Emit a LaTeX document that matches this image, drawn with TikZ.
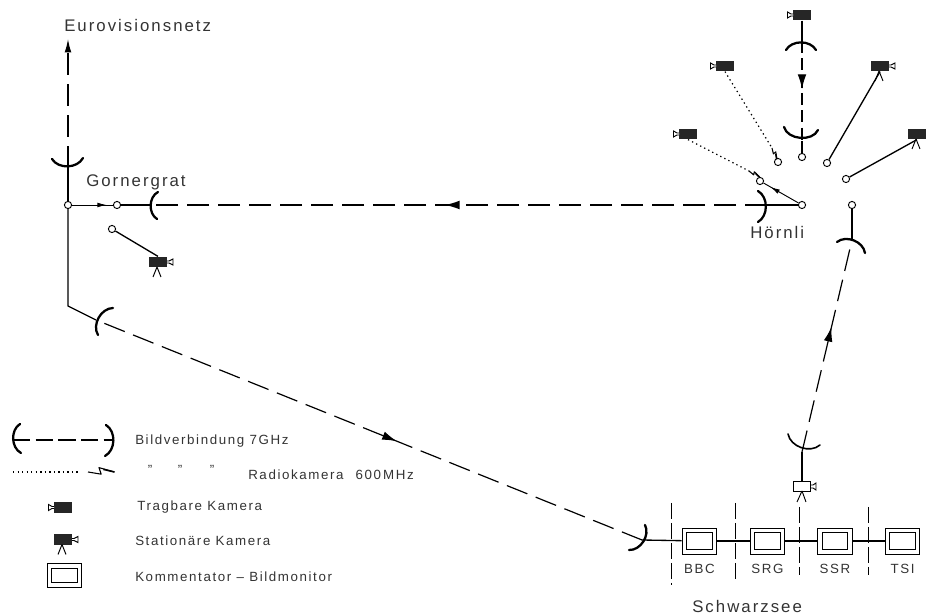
\documentclass[tikz,border=0pt]{standalone}
\usepackage{fontspec}
\setmainfont[LetterSpace=12]{Liberation Sans}
\usetikzlibrary{positioning,arrows.meta,decorations.markings}
\tikzset{
  wire/.style={line width=1pt},
  thinwire/.style={line width=0.7pt},
  link/.style={line width=0.9pt, dash pattern=on 16.5pt off 6.75pt},
  shortlink/.style={line width=0.9pt, dash pattern=on 9pt off 4pt},
  radio/.style={line width=0.9pt, dash pattern=on 1pt off 2.4pt},
  dish/.style={line width=1.7pt, line cap=round},
  port/.style={circle, draw, line width=0.7pt, fill=white, inner sep=0pt, minimum size=5.4pt},
  cambody/.style={fill=black!85, inner sep=0pt, minimum width=13.5pt, minimum height=8pt},
  whitebody/.style={draw, line width=0.7pt, fill=white, inner sep=0pt, minimum width=13pt, minimum height=7pt},
  monitor/.style={draw, line width=0.7pt, inner sep=0pt, fill=white, minimum width=26pt, minimum height=19.5pt},
  screen/.style={draw, line width=0.7pt, inner sep=0pt, minimum width=19pt, minimum height=12.5pt},
  lbl/.style={font=\fontsize{10pt}{12pt}\selectfont, text=black!80, inner sep=0pt},
  place/.style={font=\fontsize{12.6pt}{15pt}\selectfont, text=black!80, inner sep=0pt},
  tipat/.style={decoration={markings, mark=at position #1 with
    {\arrow{Latex[length=11pt,width=6.5pt]}}}, postaction=decorate},
  smalltipat/.style={decoration={markings, mark=at position #1 with
    {\arrow{Latex[length=7pt,width=3.5pt]}}}, postaction=decorate},
  tragkam/.pic={
    \node[cambody] (-body) {};
    \draw[line width=0.7pt, fill=white] (-9,-1) -- (-11,-1) -- (-14.5,-3) -- (-14.5,3) -- (-11,1) -- (-9,1);
  },
  statkam/.pic={
    \node[cambody] (-body) {};
    \draw[line width=0.7pt, fill=white] (9,-1) -- (11,-1) -- (15,-3) -- (15,3) -- (11,1) -- (9,1);
    \draw[line width=0.7pt] (-1,5) -- (-5,15) (-1,5) -- (3,15);
  },
  blitz/.pic={
    \draw[line width=0.8pt, line join=round] (0,0) -- (6,1) -- (5,-2) -- (12,0);
    \draw[line width=1.2pt] (7,-1.2) -- (12,0);
  }
}
\begin{document}
\begin{tikzpicture}[x=0.75pt, y=-0.75pt]
  \useasboundingbox (0,0) rectangle (926,616);

  % Gornergrat
  \coordinate (euro) at (68,39);
  \coordinate (goup) at (68,168);
  \coordinate (goknick) at (68,306);
  \coordinate (godown) at (96,320);
  \coordinate (goright) at (151,205);
  \node[port] (gomain) at (68,205) {};
  \node[port] (gotx) at (117,205) {};
  \node[port] (gocam) at (112,229) {};
  \pic (camgo) at (158,262) {statkam};
  \draw[wire] (goup) -- (gomain);
  \draw[wire] (gomain) -- (goknick) -- (godown);
  \draw[thinwire, smalltipat=0.85] (gomain) -- (gotx);
  \draw[wire] (gotx) -- (goright);
  \draw[wire] (gocam) -- (camgo-body.north);
  \draw[link, -{Latex[length=10pt,width=5pt]}] (goup) -- (euro);
  \draw[dish] (52,159) to[bend right=60] (83,158);
  \draw[dish] (158,192) to[bend right=60] (157,219);
  \draw[dish] (113,308) to[bend right=60] (98,335);
  \node[place, anchor=west] (eurolbl) at (64,26) {Eurovisionsnetz};
  \node[place, anchor=west] (golbl) at (86,182) {Gornergrat};

  % Hoernli
  \coordinate (holeft) at (767,205);
  \coordinate (hotop) at (802,41);
  \coordinate (holow) at (802,141);
  \coordinate (hodown) at (852,240);
  \coordinate (zigb) at (772,148);
  \coordinate (zigc) at (749,171);
  \node[port] (homain) at (802,205) {};
  \node[port] (hoa) at (760,181) {};
  \node[port] (hob) at (778,162) {};
  \node[port] (hoc) at (802,157) {};
  \node[port] (hod) at (827,163) {};
  \node[port] (hoe) at (846,179) {};
  \node[port] (hof) at (852,205) {};
  \pic (camtop) at (802,15) {tragkam};
  \pic (camlt) at (725,66) {tragkam};
  \pic (camll) at (688,134) {tragkam};
  \pic (camrt) at (880,66) {statkam};
  \pic (camrr) at (917,134) {statkam};
  \draw[wire] (homain) -- (holeft);
  \draw[thinwire, smalltipat=0.8] (homain) -- (hoa);
  \draw[wire] (hoc) -- (holow);
  \draw[wire] (hod) -- (camrt-body.south);
  \draw[wire] (hoe) -- (camrr-body.south);
  \draw[wire] (hof) -- (hodown);
  \draw[wire] (camtop-body) -- (hotop);
  \draw[radio] (camlt-body.south) -- (zigb);
  \draw[radio] (camll-body.south) -- (zigc);
  \pic[rotate=-67] at (zigb) {blitz};
  \pic[rotate=-30] at (zigc) {blitz};
  \draw[shortlink, tipat=0.48] (hotop) -- (holow);
  \draw[link, tipat=0.523] (holeft) -- (goright);
  \draw[dish] (786,50) to[bend left=60] (816,50);
  \draw[dish] (784,127) to[bend right=70] (818,130);
  \draw[dish] (758,191) to[bend left=60] (758,222);
  \draw[dish] (837,242) to[bend left=60] (865,253);
  \node[place, anchor=west] (holbl) at (750,232) {Hörnli};

  % Schwarzsee
  \coordinate (swdish) at (642,540);
  \coordinate (swup) at (802,452);
  \node[monitor] (bbc) at (699.5,541) {};
  \node[monitor] (srg) at (767.5,541) {};
  \node[monitor] (ssr) at (835,541) {};
  \node[monitor] (tsi) at (902.5,541) {};
  \foreach \m in {bbc,srg,ssr,tsi}
    \node[screen] at (\m) {};
  \node[whitebody] (swcam) at (802,486.5) {};
  \draw[line width=0.7pt, fill=white] (811,485) -- (813,485) -- (816,483) -- (816,490) -- (813,488) -- (811,488);
  \draw[line width=0.7pt] (802,491) -- (797,502) (802,491) -- (806,502);
  \draw[wire] (swdish) -- (bbc);
  \draw[wire] (bbc) -- (srg);
  \draw[wire] (srg) -- (ssr);
  \draw[wire] (ssr) -- (tsi);
  \draw[wire] (swcam) -- (swup);
  \draw[link, tipat=0.59] (swup) -- (hodown);
  \draw[link, tipat=0.551, dash phase=16.5pt] (godown) -- (swdish);
  \draw[dish] (645,525) to[bend left=60] (629,550);
  \draw[dish, line width=1.2pt] (788,434) to[bend right=60] (820,445);
  \foreach \x/\ya/\yb in {671/503/585, 735/503/582, 799/507/575, 868/507/575}
    \draw[line width=0.5pt, dash pattern=on 12pt off 3pt] (\x,\ya) -- (\x,\yb);
  \node[lbl, below=7pt of bbc] (bbclbl) {BBC};
  \node[lbl, below=7pt of srg] (srglbl) {SRG};
  \node[lbl, below=7pt of ssr] (ssrlbl) {SSR};
  \node[lbl, below=7pt of tsi] (tsilbl) {TSI};
  \node[place, anchor=west] (swlbl) at (692,606.5) {Schwarzsee};

  % Legende
  \coordinate (legl) at (13,440);
  \coordinate (legr) at (114,440);
  \coordinate (legdot) at (13,472);
  \coordinate (legzig) at (88,472);
  \draw[shortlink, dash pattern=on 13pt off 4pt] (legl) -- (legr);
  \draw[dish] (20,424) to[bend right=60] (21,453);
  \draw[dish] (106,425) to[bend left=60] (105,456);
  \draw[radio] (legdot) -- (80,472);
  \pic[scale=2.2] at (legzig) {blitz};
  \pic (legtrag) at (63,507.5) {tragkam};
  \pic (legstat) at (63,539.5) {statkam};
  \node[monitor, minimum height=17.5pt] (legmon) at (64.5,575.5) {};
  \node[screen, minimum height=10.5pt] at (legmon) {};
  \node[lbl, anchor=west] (t1) at (135,441) {Bildverbindung 7GHz};
  \node[lbl] (q1) at (150,470) {"};
  \node[lbl] (q2) at (180,470) {"};
  \node[lbl] (q3) at (212,470) {"};
  \node[lbl, anchor=west] (t2) at (248,475) {Radiokamera\hspace{5pt} 600\,MHz};
  \node[lbl, anchor=west] (t3) at (137,507) {Tragbare Kamera};
  \node[lbl, anchor=west] (t4) at (135,541) {Stationäre Kamera};
  \node[lbl, anchor=west] (t5) at (135,577) {Kommentator – Bildmonitor};
\end{tikzpicture}
\end{document}
